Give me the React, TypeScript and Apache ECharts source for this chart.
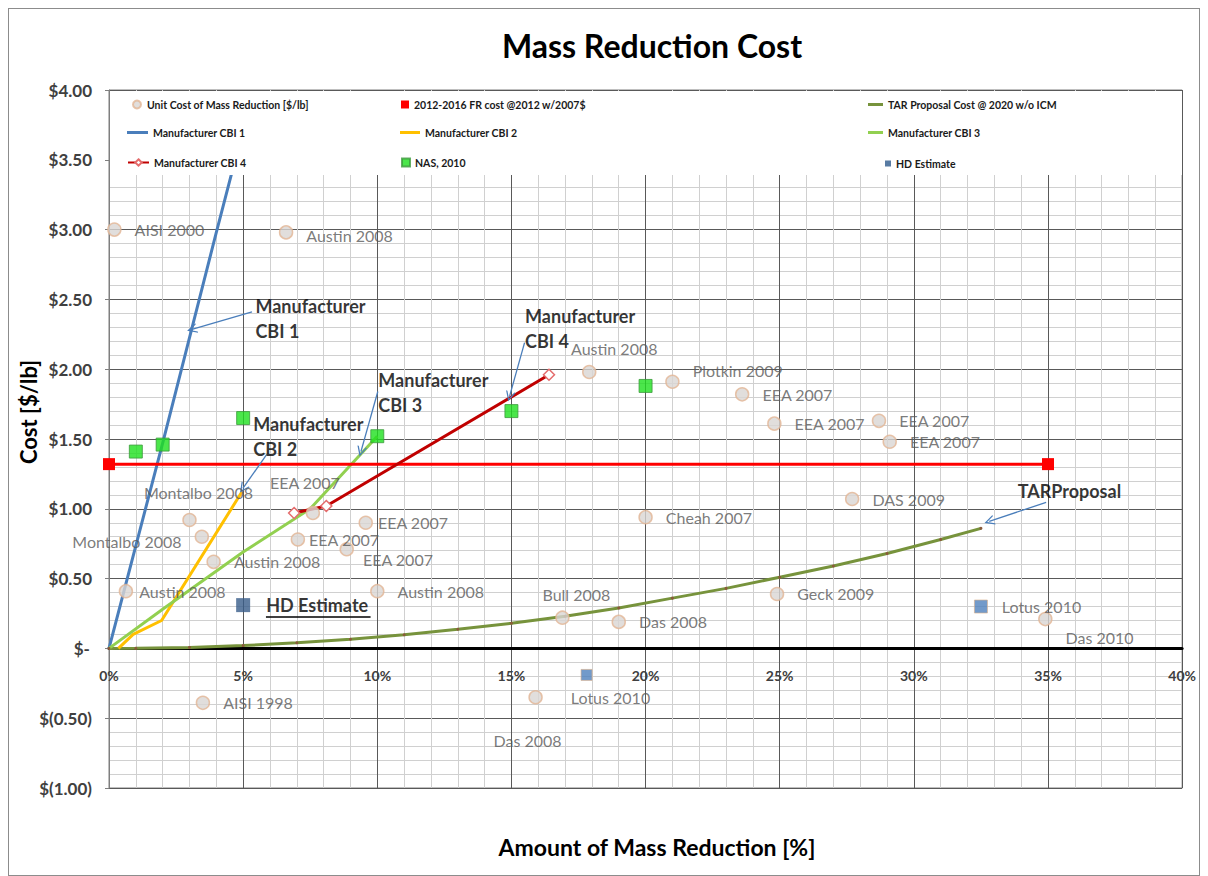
import React, { useEffect, useRef } from "react";
import * as echarts from "echarts";

// ---------- data ----------
const unitCostNames = [
  "AISI 2000", "Austin 2008", "Austin 2008", "Plotkin 2009", "EEA 2007", "EEA 2007",
  "EEA 2007", "EEA 2007", "DAS 2009", "Cheah 2007", "Geck 2009", "Das 2010",
  "Bull 2008", "Das 2008", "Lotus 2010", "AISI 1998", "Austin 2008", "Montalbo 2008",
  "Montalbo 2008", "Austin 2008", "EEA 2007", "EEA 2007", "EEA 2007", "EEA 2007",
  "Austin 2008", "Das 2008",
];
const unitCostX = [
  0.2, 6.6, 17.9, 21.0, 23.6, 24.8, 28.7, 29.1, 27.7, 20.0, 24.9, 34.9,
  16.9, 19.0, 15.9, 3.5, 0.63, 3.0, 3.46, 3.9, 7.6, 7.04, 9.57, 8.86, 10.0, 15.6,
];
const unitCostY = [
  3.0, 2.98, 1.98, 1.91, 1.82, 1.61, 1.63, 1.48, 1.07, 0.94, 0.39, 0.21,
  0.22, 0.19, -0.35, -0.39, 0.41, 0.92, 0.8, 0.62, 0.97, 0.78, 0.9, 0.71, 0.41, -0.66,
];

const frX = [0, 35];
const frY = [1.32, 1.32];

const tarX = [0, 1, 3, 5, 7, 9, 11, 13, 15, 17, 19, 21, 23, 25, 27, 29, 31, 32.5];
const tarY = [0, 0.001, 0.007, 0.02, 0.04, 0.066, 0.098, 0.137, 0.18, 0.23, 0.29, 0.36, 0.43, 0.51, 0.59, 0.68, 0.78, 0.86];

const cbi1X = [0, 2, 4, 5];
const cbi1Y = [0, 1.47, 2.98, 3.72];
const cbi2X = [0.35, 0.9, 1.96, 4.95];
const cbi2Y = [0, 0.1, 0.2, 1.12];
const cbi3X = [0, 2, 5, 7.5, 10];
const cbi3Y = [0, 0.28, 0.69, 1.0, 1.52];
const cbi4X = [6.9, 8.1, 16.4];
const cbi4Y = [0.97, 1.02, 1.96];

const nasX = [1, 2, 5, 10, 15, 20];
const nasY = [1.41, 1.46, 1.65, 1.52, 1.7, 1.88];

const hdNames = ["HD Estimate", "Lotus 2010", ""];
const hdX = [5.0, 32.5, 17.8];
const hdY = [0.31, 0.3, -0.19];

const noteTexts = ["Manufacturer\nCBI 1", "Manufacturer\nCBI 2", "Manufacturer\nCBI 3", "Manufacturer\nCBI 4", "TARProposal"];
const noteX = [5.44, 5.36, 10.02, 15.49, 33.85];
const noteY = [2.36, 1.52, 1.83, 2.29, 1.13];

// arrows
const arrowFromX = [5.33, 5.88, 10.02, 15.49, 34.93];
const arrowFromY = [2.41, 1.39, 1.84, 2.19, 1.046];
const arrowToX = [3.09, 4.99, 9.39, 14.93, 32.81];
const arrowToY = [2.285, 1.146, 1.41, 1.805, 0.91];

const underlineX = [5.85, 9.75];
const underlineY = [0.225, 0.225];

const legendNames = [
  "Unit Cost of Mass Reduction [$/lb]",
  "2012-2016 FR cost @2012 w/2007$",
  "TAR Proposal Cost @ 2020 w/o ICM",
  "Manufacturer CBI 1",
  "Manufacturer CBI 2",
  "Manufacturer CBI 3",
  "Manufacturer CBI 4",
  "NAS, 2010",
  "HD Estimate",
];

// ---------- styles ----------
const FONT = "Lato, 'Open Sans', sans-serif";
const LEGEND_FONT = "'Liberation Sans Narrow', Lato, sans-serif";

const unitCostLabelStyle: any[] = [
  {}, { offset: [0, 3] }, { position: "top", distance: 8, offset: [25, 0] }, { offset: [0, -11] },
  {}, {}, {}, {}, {}, {}, {},
  { offset: [0, 18] },
  { position: "top", distance: 8, offset: [14, 0] },
  {},
  { distance: 28 },
  {},
  { distance: 6 },
  { position: "top", distance: 12, offset: [9, 0] },
  { position: "left", distance: 13, offset: [0, 5] },
  {},
  { position: "top", distance: 15, offset: [-8, 0] },
  { distance: 4 },
  { distance: 5 },
  { distance: 9, offset: [0, 10] },
  {},
  { position: "inside" },
];

const pairs = (xs: number[], ys: number[]) => xs.map((x, i) => [x, ys[i]]);

const fmtCost = (v: number) =>
  v === 0 ? "$-\u2009" : v < 0 ? `$(${(-v).toFixed(2)})` : `$${v.toFixed(2)}`;

// legend placement: [left, top, itemWidth, itemHeight, icon, color]
const legendLayout: any[] = [
  [123, 90, 10, 8, "circle", null],
  [392, 90, 8, 8, "rect", null],
  [859, 90, 15, 3, "rect", "#77933C"],
  [118, 118, 21, 3, "rect", null],
  [391, 118, 20, 3, "rect", null],
  [859, 118, 15, 3, "rect", null],
  [118, 148, 21, 8, null, null],
  [392, 148, 8, 8, "rect", null],
  [876, 149, 6, 6, "rect", null],
];

export default function App() {
  const ref = useRef<HTMLDivElement>(null);
  useEffect(() => {
    if (!ref.current) return;
    const chart = echarts.init(ref.current, undefined, { renderer: "svg" });

    const legends = legendNames.map((name, i) => {
      const [left, top, w, h, icon, color] = legendLayout[i];
      const item: any = { name };
      if (icon) item.icon = icon;
      if (color) item.itemStyle = { color, borderWidth: 0 };
      return {
        data: [item],
        left,
        top,
        itemWidth: w,
        itemHeight: h,
        padding: 0,
        z: 10,
        selectedMode: false,
        textStyle: { fontSize: 10.5, fontWeight: "bold", color: "#1a1a1a", fontFamily: LEGEND_FONT },
      };
    });

    const xLabelStyle = { formatter: "{value}%", fontWeight: "bold", fontSize: 14, color: "#404040", fontFamily: FONT };
    const yLabelStyle = { formatter: fmtCost, fontWeight: "bold", fontSize: 17, color: "#404040", fontFamily: FONT };

    const option: any = {
      animation: false,
      textStyle: { fontFamily: FONT },
      grid: { left: 100, top: 81, width: 1074, height: 698, show: true, borderColor: "#7f7f7f", borderWidth: 1 },
      xAxis: [
        {
          type: "value",
          min: 0,
          max: 40,
          interval: 5,
          axisLine: { onZero: true, onZeroAxisIndex: 0, lineStyle: { color: "#000", width: 3 } },
          axisTick: { show: false },
          axisLabel: { show: false },
          splitLine: { show: true, lineStyle: { color: "#595959", width: 1 } },
          minorTick: { show: false, splitNumber: 5 },
          minorSplitLine: { show: true, lineStyle: { color: "#d0d0d0", width: 1 } },
        },
        {
          type: "value",
          min: 0,
          max: 40,
          interval: 5,
          position: "bottom",
          offset: -139.6,
          axisLine: { show: false, onZero: false },
          axisTick: { show: false },
          splitLine: { show: false },
          minorSplitLine: { show: false },
          axisLabel: { ...xLabelStyle, margin: 20 },
        },
      ],
      yAxis: [
        {
          type: "value",
          min: -1,
          max: 4,
          interval: 0.5,
          axisLine: { show: true, onZero: false, lineStyle: { color: "#7f7f7f", width: 1 } },
          axisTick: { show: true, length: 4, lineStyle: { color: "#7f7f7f" } },
          axisLabel: { show: false },
          splitLine: { show: true, lineStyle: { color: "#595959", width: 1 } },
          minorTick: { show: false, splitNumber: 5 },
          minorSplitLine: { show: true, lineStyle: { color: "#d0d0d0", width: 1 } },
        },
        {
          type: "value",
          min: -1,
          max: 4,
          interval: 0.5,
          position: "left",
          offset: 0,
          axisLine: { show: false, onZero: false },
          axisTick: { show: false },
          splitLine: { show: false },
          minorSplitLine: { show: false },
          axisLabel: { ...yLabelStyle, margin: 17 },
        },
      ],
      legend: legends,
      graphic: [
        { type: "rect", z: 5, shape: { x: 101, y: 82, width: 1072, height: 84 }, style: { fill: "#fff" }, silent: true },
        {
          type: "text", z: 20, x: 643, y: 36,
          style: { text: "Mass Reduction Cost", fontSize: 32, fontWeight: "bold", fill: "#000", align: "center", verticalAlign: "middle", fontFamily: FONT },
        },
        {
          type: "text", z: 20, x: 648, y: 838,
          style: { text: "Amount of Mass Reduction [%]", fontSize: 23, fontWeight: "bold", fill: "#000", align: "center", verticalAlign: "middle", fontFamily: FONT },
        },
        {
          type: "text", z: 20, x: 19, y: 403, rotation: Math.PI / 2,
          style: { text: "Cost [$/lb]", fontSize: 22, fontWeight: "bold", fill: "#000", align: "center", verticalAlign: "middle", fontFamily: FONT },
        },
      ],
      series: [
        {
          name: legendNames[2],
          type: "line",
          data: pairs(tarX, tarY),
          symbol: "circle",
          symbolSize: 3,
          showSymbol: true,
          itemStyle: { color: "#8a5a3a" },
          lineStyle: { color: "#77933C", width: 3 },
          color: "#77933C",
          z: 3,
        },
        {
          name: legendNames[3],
          type: "line",
          data: pairs(cbi1X, cbi1Y),
          symbol: "none",
          color: "#4A7EBB",
          lineStyle: { color: "#4A7EBB", width: 3 },
          z: 3,
        },
        {
          name: legendNames[4],
          type: "line",
          data: pairs(cbi2X, cbi2Y),
          symbol: "none",
          color: "#FFC000",
          lineStyle: { color: "#FFC000", width: 3 },
          z: 3,
        },
        {
          name: legendNames[5],
          type: "line",
          data: pairs(cbi3X, cbi3Y),
          symbol: "none",
          color: "#92D050",
          lineStyle: { color: "#92D050", width: 3 },
          z: 3,
        },
        {
          name: legendNames[1],
          type: "line",
          data: pairs(frX, frY),
          symbol: "rect",
          symbolSize: 12,
          color: "#FF0000",
          itemStyle: { color: "#FF0000" },
          lineStyle: { color: "#FF0000", width: 3 },
          z: 3,
        },
        {
          name: legendNames[6],
          type: "line",
          data: pairs(cbi4X, cbi4Y),
          symbol: "diamond",
          symbolSize: 11,
          color: "#C00000",
          itemStyle: { color: "#fff", borderColor: "#E46C6C", borderWidth: 1.5 },
          lineStyle: { color: "#C00000", width: 3 },
          z: 4,
        },
        {
          name: legendNames[7],
          type: "scatter",
          data: pairs(nasX, nasY),
          symbol: "rect",
          symbolSize: 13,
          itemStyle: { color: "#1EE01E", borderColor: "#3C9A3C", borderWidth: 1 },
          z: 5,
        },
        {
          name: legendNames[0],
          type: "scatter",
          symbol: "circle",
          symbolSize: 13,
          itemStyle: { color: "#D9D6D3", borderColor: "#E2B595", borderWidth: 1.5 },
          label: { show: true, position: "right", distance: 13, formatter: "{b}", fontSize: 16, color: "#595959", fontFamily: FONT },
          data: unitCostNames.map((name, i) => {
            const d: any = {
              name,
              value: [unitCostX[i], unitCostY[i]],
              label: { ...unitCostLabelStyle[i] },
            };
            if (unitCostLabelStyle[i].position === "inside") {
              d.symbolSize = 0;
              d.itemStyle = { color: "transparent", borderWidth: 0 };
            }
            return d;
          }),
          z: 6,
        },
        {
          name: legendNames[8],
          type: "scatter",
          symbol: "rect",
          itemStyle: { color: "#2E5A8C" },
          data: hdNames.map((name, i) => ({
            name,
            value: [hdX[i], hdY[i]],
            symbolSize: i === 0 ? 14 : i === 1 ? 13 : 11,
            itemStyle: i === 0 ? { color: "#385D8A" } : { color: "#4F81BD", borderColor: "#D9B08C", borderWidth: 0.8 },
            label:
              i === 0
                ? { show: true, position: "right", distance: 16, formatter: "{b}", fontSize: 18, fontWeight: "bold", color: "#000", fontFamily: FONT }
                : i === 1
                ? { show: true, position: "right", distance: 14, formatter: "{b}", fontSize: 16, color: "#595959", fontFamily: FONT }
                : { show: false },
          })),
          z: 6,
        },
        {
          name: "annotations",
          type: "scatter",
          silent: true,
          symbolSize: 1,
          itemStyle: { color: "transparent" },
          label: {
            show: true, position: "right", distance: 0, formatter: "{b}", fontSize: 18, fontWeight: "bold",
            color: "#000", lineHeight: 25, align: "left", fontFamily: FONT,
          },
          data: noteTexts.map((t, i) => ({ name: t, value: [noteX[i], noteY[i]] })),
          markLine: {
            silent: true,
            animation: false,
            symbol: ["none", "path://M0,10 L5,0 L10,10 L8.6,10 L5,2.8 L1.4,10 Z"],
            symbolSize: 10,
            label: { show: false },
            lineStyle: { color: "#4A7EBB", width: 1.3, type: "solid" },
            emphasis: { disabled: true },
            data: [
              ...arrowFromX.map((x, i) => [
                { coord: [x, arrowFromY[i]] },
                { coord: [arrowToX[i], arrowToY[i]] },
              ]),
              [
                { coord: [underlineX[0], underlineY[0]], symbol: "none", lineStyle: { color: "#000", width: 1.5 } },
                { coord: [underlineX[1], underlineY[1]], symbol: "none" },
              ],
            ],
          },
          z: 7,
        },
      ],
    };
    chart.setOption(option);
    return () => chart.dispose();
  }, []);

  return (
    <div
      ref={ref}
      style={{ width: 1192, height: 868, border: "1px solid #8c8c8c", boxSizing: "border-box", background: "#fff" }}
    />
  );
}
